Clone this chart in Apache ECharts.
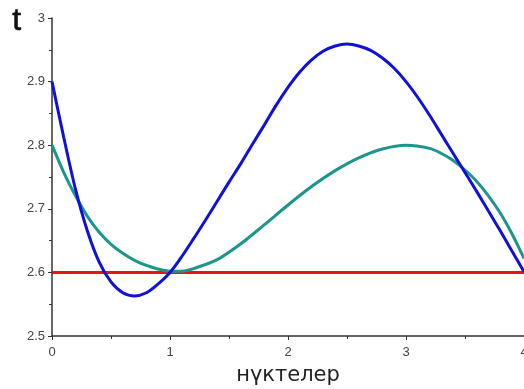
<!DOCTYPE html>
<html><head><meta charset="utf-8">
<script src="https://cdn.jsdelivr.net/npm/echarts@6/dist/echarts.min.js"></script>
<style>html,body{margin:0;padding:0;background:#fff}#c{width:524px;height:389px}</style>
</head><body><div id="c"></div>
<script>
var xTicks = [0, 1, 2, 3, 4];
var yTicks = [2.5, 2.6, 2.7, 2.8, 2.9, 3];
var blueX = [0, 0.1, 0.2, 0.3, 0.4, 0.5, 0.6, 0.7, 0.8, 0.9, 1.0, 1.1, 1.2, 1.3, 1.4, 1.5, 1.6, 1.7, 1.8, 1.9, 2.0, 2.1, 2.2, 2.3, 2.4, 2.5, 2.6, 2.7, 2.8, 2.9, 3.0, 3.1, 3.2, 3.3, 3.4, 3.5, 3.6, 3.7, 3.8, 3.9, 4.0];
var blueY = [2.900, 2.812, 2.730, 2.665, 2.616, 2.585, 2.568, 2.563, 2.568, 2.582, 2.600, 2.625, 2.653, 2.682, 2.712, 2.742, 2.771, 2.802, 2.832, 2.863, 2.891, 2.915, 2.934, 2.948, 2.956, 2.959, 2.956, 2.949, 2.937, 2.921, 2.900, 2.875, 2.847, 2.817, 2.787, 2.757, 2.727, 2.696, 2.665, 2.633, 2.601];
var tealX = [0, 0.1, 0.2, 0.3, 0.4, 0.5, 0.6, 0.7, 0.8, 1.0, 1.1, 1.2, 1.4, 1.6, 1.8, 2.0, 2.2, 2.4, 2.6, 2.8, 3.0, 3.2, 3.3, 3.4, 3.5, 3.6, 3.7, 3.8, 3.9, 4.0];
var tealY = [2.800, 2.757, 2.720, 2.688, 2.663, 2.644, 2.630, 2.619, 2.611, 2.602, 2.602, 2.606, 2.620, 2.645, 2.675, 2.706, 2.735, 2.760, 2.780, 2.794, 2.800, 2.795, 2.787, 2.776, 2.761, 2.743, 2.720, 2.693, 2.660, 2.622];
var redX = [0, 4];
var redY = [2.6, 2.6];

function pairs(xs, ys) { return xs.map(function (x, i) { return [x, ys[i]]; }); }

var chart = echarts.init(document.getElementById('c'));
chart.setOption({
  animation: false,
  grid: { left: 52, right: 0, top: 18, bottom: 53, containLabel: false, outerBoundsMode: 'none' },
  graphic: [{ type: 'text', left: 12, top: 5, style: { text: 't', font: '32px "Liberation Sans", Arial, sans-serif', fill: '#111', stroke: '#111', lineWidth: 0.6 } }],
  xAxis: {
    type: 'value', min: xTicks[0], max: xTicks[xTicks.length - 1], interval: 1,
    name: 'нүктелер', nameLocation: 'middle', nameGap: 29,
    nameTextStyle: { fontSize: 21, color: '#222', fontFamily: '"DejaVu Sans", Verdana, sans-serif' },
    axisLine: { lineStyle: { color: '#333', width: 1.5 } },
    axisTick: { length: 4, lineStyle: { color: '#333' } },
    minorTick: { show: true, splitNumber: 2, length: 3, lineStyle: { color: '#333' } },
    axisLabel: { fontSize: 13, color: '#444', margin: 10, fontFamily: '"Liberation Sans", Arial, sans-serif' },
    splitLine: { show: false }
  },
  yAxis: {
    type: 'value', min: yTicks[0], max: yTicks[yTicks.length - 1], interval: 0.1,
    axisLine: { show: true, lineStyle: { color: '#333', width: 1.5 } },
    axisTick: { show: true, length: 4, lineStyle: { color: '#333' } },
    minorTick: { show: true, splitNumber: 2, length: 3, lineStyle: { color: '#333' } },
    axisLabel: { fontSize: 13, color: '#444', margin: 7, fontFamily: '"Liberation Sans", Arial, sans-serif',
      formatter: function (v) { return String(+v.toFixed(1)); } },
    splitLine: { show: false }
  },
  series: [
    { type: 'line', data: pairs(redX, redY), symbol: 'none', lineStyle: { color: '#e81414', width: 3 }, z: 2 },
    { type: 'line', data: pairs(tealX, tealY), symbol: 'none', smooth: 0.3, lineStyle: { color: '#1c958c', width: 3 }, z: 3 },
    { type: 'line', data: pairs(blueX, blueY), symbol: 'none', smooth: 0.3, lineStyle: { color: '#1010d8', width: 3 }, z: 4 }
  ]
});
</script></body></html>
